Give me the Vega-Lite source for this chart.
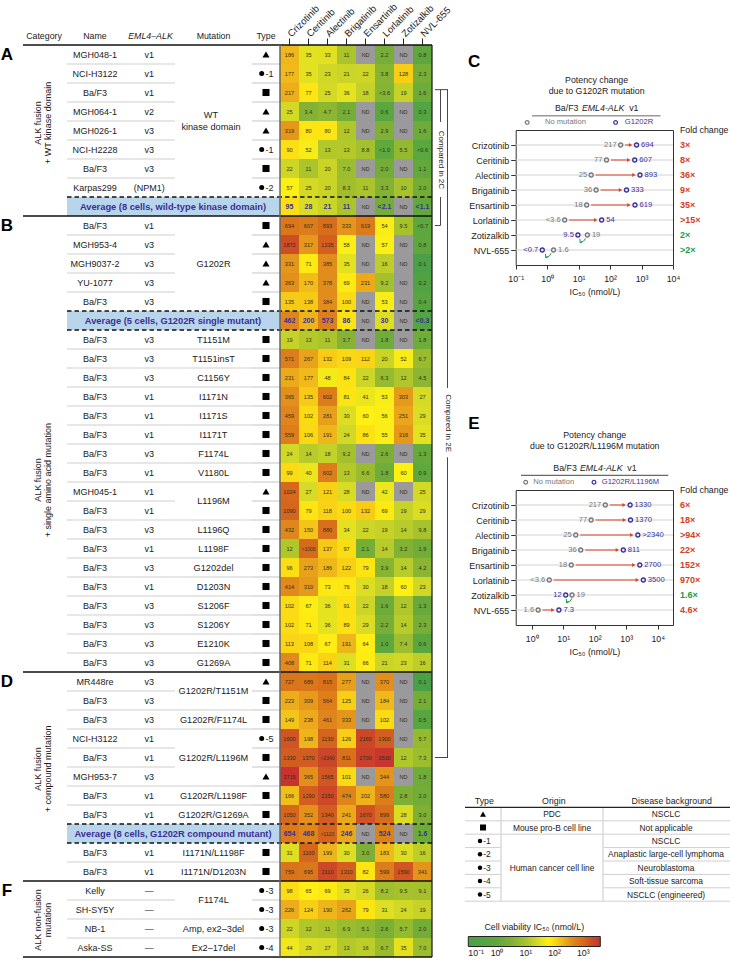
{"$schema":"https://vega.github.io/schema/vega-lite/v6.json","padding":{"left":0,"top":1,"right":0,"bottom":0},"bounds":"flush","spacing":0,"config":{"font":"Liberation Sans","view":{"stroke":null},"text":{"color":"#222"},"title":{"fontWeight":"normal","color":"#222"}},
"datasets":{
"rows":[
{"row":1,"name":"MGH048-1","variant":"v1","mutation":"WT\nkinase domain","group":"a","symbol":"triangle","suffix":""},
{"row":2,"name":"NCI-H3122","variant":"v1","mutation":"WT\nkinase domain","group":"a","symbol":"circle","suffix":"-1"},
{"row":3,"name":"Ba/F3","variant":"v1","mutation":"WT\nkinase domain","group":"a","symbol":"square","suffix":""},
{"row":4,"name":"MGH064-1","variant":"v2","mutation":"WT\nkinase domain","group":"a","symbol":"triangle","suffix":""},
{"row":5,"name":"MGH026-1","variant":"v3","mutation":"WT\nkinase domain","group":"a","symbol":"triangle","suffix":""},
{"row":6,"name":"NCI-H2228","variant":"v3","mutation":"WT\nkinase domain","group":"a","symbol":"circle","suffix":"-1"},
{"row":7,"name":"Ba/F3","variant":"v3","mutation":"WT\nkinase domain","group":"a","symbol":"square","suffix":""},
{"row":8,"name":"Karpas299","variant":"(NPM1)","mutation":"WT\nkinase domain","group":"a","symbol":"circle","suffix":"-2"},
{"row":10,"name":"Ba/F3","variant":"v1","mutation":"G1202R","group":"b","symbol":"square","suffix":""},
{"row":11,"name":"MGH953-4","variant":"v3","mutation":"G1202R","group":"b","symbol":"triangle","suffix":""},
{"row":12,"name":"MGH9037-2","variant":"v3","mutation":"G1202R","group":"b","symbol":"triangle","suffix":""},
{"row":13,"name":"YU-1077","variant":"v3","mutation":"G1202R","group":"b","symbol":"triangle","suffix":""},
{"row":14,"name":"Ba/F3","variant":"v3","mutation":"G1202R","group":"b","symbol":"square","suffix":""},
{"row":16,"name":"Ba/F3","variant":"v3","mutation":"T1151M","group":"c","symbol":"square","suffix":""},
{"row":17,"name":"Ba/F3","variant":"v3","mutation":"T1151insT","group":"c","symbol":"square","suffix":""},
{"row":18,"name":"Ba/F3","variant":"v3","mutation":"C1156Y","group":"c","symbol":"square","suffix":""},
{"row":19,"name":"Ba/F3","variant":"v1","mutation":"I1171N","group":"c","symbol":"square","suffix":""},
{"row":20,"name":"Ba/F3","variant":"v1","mutation":"I1171S","group":"c","symbol":"square","suffix":""},
{"row":21,"name":"Ba/F3","variant":"v1","mutation":"I1171T","group":"c","symbol":"square","suffix":""},
{"row":22,"name":"Ba/F3","variant":"v3","mutation":"F1174L","group":"c","symbol":"square","suffix":""},
{"row":23,"name":"Ba/F3","variant":"v1","mutation":"V1180L","group":"c","symbol":"square","suffix":""},
{"row":24,"name":"MGH045-1","variant":"v1","mutation":"L1196M","group":"c","symbol":"triangle","suffix":""},
{"row":25,"name":"Ba/F3","variant":"v1","mutation":"L1196M","group":"c","symbol":"square","suffix":""},
{"row":26,"name":"Ba/F3","variant":"v3","mutation":"L1196Q","group":"c","symbol":"square","suffix":""},
{"row":27,"name":"Ba/F3","variant":"v1","mutation":"L1198F","group":"c","symbol":"square","suffix":""},
{"row":28,"name":"Ba/F3","variant":"v3","mutation":"G1202del","group":"c","symbol":"square","suffix":""},
{"row":29,"name":"Ba/F3","variant":"v1","mutation":"D1203N","group":"c","symbol":"square","suffix":""},
{"row":30,"name":"Ba/F3","variant":"v3","mutation":"S1206F","group":"c","symbol":"square","suffix":""},
{"row":31,"name":"Ba/F3","variant":"v3","mutation":"S1206Y","group":"c","symbol":"square","suffix":""},
{"row":32,"name":"Ba/F3","variant":"v3","mutation":"E1210K","group":"c","symbol":"square","suffix":""},
{"row":33,"name":"Ba/F3","variant":"v3","mutation":"G1269A","group":"c","symbol":"square","suffix":""},
{"row":34,"name":"MR448re","variant":"v3","mutation":"G1202R/T1151M","group":"d","symbol":"triangle","suffix":""},
{"row":35,"name":"Ba/F3","variant":"v3","mutation":"G1202R/T1151M","group":"d","symbol":"square","suffix":""},
{"row":36,"name":"Ba/F3","variant":"v3","mutation":"G1202R/F1174L","group":"d","symbol":"square","suffix":""},
{"row":37,"name":"NCI-H3122","variant":"v1","mutation":"G1202R/L1196M","group":"d","symbol":"circle","suffix":"-5"},
{"row":38,"name":"Ba/F3","variant":"v1","mutation":"G1202R/L1196M","group":"d","symbol":"square","suffix":""},
{"row":39,"name":"MGH953-7","variant":"v3","mutation":"G1202R/L1196M","group":"d","symbol":"triangle","suffix":""},
{"row":40,"name":"Ba/F3","variant":"v1","mutation":"G1202R/L1198F","group":"d","symbol":"square","suffix":""},
{"row":41,"name":"Ba/F3","variant":"v1","mutation":"G1202R/G1269A","group":"d","symbol":"square","suffix":""},
{"row":43,"name":"Ba/F3","variant":"v1","mutation":"I1171N/L1198F","group":"d","symbol":"square","suffix":""},
{"row":44,"name":"Ba/F3","variant":"v1","mutation":"I1171N/D1203N","group":"d","symbol":"square","suffix":""},
{"row":45,"name":"Kelly","variant":"—","mutation":"F1174L","group":"f","symbol":"circle","suffix":"-3"},
{"row":46,"name":"SH-SY5Y","variant":"—","mutation":"F1174L","group":"f","symbol":"circle","suffix":"-3"},
{"row":47,"name":"NB-1","variant":"—","mutation":"Amp, ex2–3del","group":"f","symbol":"circle","suffix":"-3"},
{"row":48,"name":"Aska-SS","variant":"—","mutation":"Ex2–17del","group":"f","symbol":"circle","suffix":"-4"}
],
"averages":[{"row":9,"label":"Average (8 cells, wild-type kinase domain)"},{"row":15,"label":"Average (5 cells, G1202R single mutant)"},{"row":42,"label":"Average (8 cells, G1202R compound mutant)"}],
"solidLines":[{"row":0},{"row":9},{"row":33},{"row":44},{"row":48}],
"dashedLines":[{"row":8},{"row":14},{"row":15},{"row":41},{"row":42}],
"categories":[{"row":4.6,"label":"ALK fusion\n+ WT kinase domain"},{"row":23.4,"label":"ALK fusion\n+ single amino acid mutation"},{"row":38.6,"label":"ALK fusion\n+ compound mutation"},{"row":46.55,"label":"ALK non-fusion\nmutation"}],
"letters":[{"row":1,"label":"A"},{"row":10,"label":"B"},{"row":34,"label":"D"},{"row":45,"label":"F"}],
"heat":[
{"row":1,"drug":"Crizotinib","value":186,"label":"186"},{"row":1,"drug":"Ceritinib","value":35,"label":"35"},{"row":1,"drug":"Alectinib","value":33,"label":"33"},{"row":1,"drug":"Brigatinib","value":11,"label":"11"},{"row":1,"drug":"Ensartinib","value":null,"label":"ND"},{"row":1,"drug":"Lorlatinib","value":2.2,"label":"2.2"},{"row":1,"drug":"Zotizalkib","value":null,"label":"ND"},{"row":1,"drug":"NVL-655","value":0.8,"label":"0.8"},
{"row":2,"drug":"Crizotinib","value":177,"label":"177"},{"row":2,"drug":"Ceritinib","value":35,"label":"35"},{"row":2,"drug":"Alectinib","value":23,"label":"23"},{"row":2,"drug":"Brigatinib","value":21,"label":"21"},{"row":2,"drug":"Ensartinib","value":22,"label":"22"},{"row":2,"drug":"Lorlatinib","value":3.8,"label":"3.8"},{"row":2,"drug":"Zotizalkib","value":128,"label":"128"},{"row":2,"drug":"NVL-655","value":2.3,"label":"2.3"},
{"row":3,"drug":"Crizotinib","value":217,"label":"217"},{"row":3,"drug":"Ceritinib","value":77,"label":"77"},{"row":3,"drug":"Alectinib","value":25,"label":"25"},{"row":3,"drug":"Brigatinib","value":36,"label":"36"},{"row":3,"drug":"Ensartinib","value":18,"label":"18"},{"row":3,"drug":"Lorlatinib","value":3.6,"label":"<3.6"},{"row":3,"drug":"Zotizalkib","value":19,"label":"19"},{"row":3,"drug":"NVL-655","value":1.6,"label":"1.6"},
{"row":4,"drug":"Crizotinib","value":25,"label":"25"},{"row":4,"drug":"Ceritinib","value":3.4,"label":"3.4"},{"row":4,"drug":"Alectinib","value":4.7,"label":"4.7"},{"row":4,"drug":"Brigatinib","value":2.1,"label":"2.1"},{"row":4,"drug":"Ensartinib","value":null,"label":"ND"},{"row":4,"drug":"Lorlatinib","value":0.6,"label":"0.6"},{"row":4,"drug":"Zotizalkib","value":null,"label":"ND"},{"row":4,"drug":"NVL-655","value":0.3,"label":"0.3"},
{"row":5,"drug":"Crizotinib","value":319,"label":"319"},{"row":5,"drug":"Ceritinib","value":80,"label":"80"},{"row":5,"drug":"Alectinib","value":80,"label":"80"},{"row":5,"drug":"Brigatinib","value":12,"label":"12"},{"row":5,"drug":"Ensartinib","value":null,"label":"ND"},{"row":5,"drug":"Lorlatinib","value":2.9,"label":"2.9"},{"row":5,"drug":"Zotizalkib","value":null,"label":"ND"},{"row":5,"drug":"NVL-655","value":1.6,"label":"1.6"},
{"row":6,"drug":"Crizotinib","value":90,"label":"90"},{"row":6,"drug":"Ceritinib","value":52,"label":"52"},{"row":6,"drug":"Alectinib","value":13,"label":"13"},{"row":6,"drug":"Brigatinib","value":13,"label":"13"},{"row":6,"drug":"Ensartinib","value":8.8,"label":"8.8"},{"row":6,"drug":"Lorlatinib","value":1.0,"label":"<1.0"},{"row":6,"drug":"Zotizalkib","value":5.5,"label":"5.5"},{"row":6,"drug":"NVL-655","value":0.6,"label":"<0.6"},
{"row":7,"drug":"Crizotinib","value":22,"label":"22"},{"row":7,"drug":"Ceritinib","value":11,"label":"11"},{"row":7,"drug":"Alectinib","value":20,"label":"20"},{"row":7,"drug":"Brigatinib","value":7.0,"label":"7.0"},{"row":7,"drug":"Ensartinib","value":null,"label":"ND"},{"row":7,"drug":"Lorlatinib","value":2.0,"label":"2.0"},{"row":7,"drug":"Zotizalkib","value":null,"label":"ND"},{"row":7,"drug":"NVL-655","value":1.1,"label":"1.1"},
{"row":8,"drug":"Crizotinib","value":57,"label":"57"},{"row":8,"drug":"Ceritinib","value":25,"label":"25"},{"row":8,"drug":"Alectinib","value":20,"label":"20"},{"row":8,"drug":"Brigatinib","value":8.3,"label":"8.3"},{"row":8,"drug":"Ensartinib","value":11,"label":"11"},{"row":8,"drug":"Lorlatinib","value":3.3,"label":"3.3"},{"row":8,"drug":"Zotizalkib","value":10,"label":"10"},{"row":8,"drug":"NVL-655","value":2.0,"label":"2.0"},
{"row":9,"drug":"Crizotinib","value":95,"label":"95"},{"row":9,"drug":"Ceritinib","value":28,"label":"28"},{"row":9,"drug":"Alectinib","value":21,"label":"21"},{"row":9,"drug":"Brigatinib","value":11,"label":"11"},{"row":9,"drug":"Ensartinib","value":null,"label":"ND"},{"row":9,"drug":"Lorlatinib","value":2.1,"label":"<2.1"},{"row":9,"drug":"Zotizalkib","value":null,"label":"ND"},{"row":9,"drug":"NVL-655","value":1.1,"label":"<1.1"},
{"row":10,"drug":"Crizotinib","value":694,"label":"694"},{"row":10,"drug":"Ceritinib","value":607,"label":"607"},{"row":10,"drug":"Alectinib","value":893,"label":"893"},{"row":10,"drug":"Brigatinib","value":333,"label":"333"},{"row":10,"drug":"Ensartinib","value":619,"label":"619"},{"row":10,"drug":"Lorlatinib","value":54,"label":"54"},{"row":10,"drug":"Zotizalkib","value":9.5,"label":"9.5"},{"row":10,"drug":"NVL-655","value":0.7,"label":"<0.7"},
{"row":11,"drug":"Crizotinib","value":1872,"label":"1872"},{"row":11,"drug":"Ceritinib","value":317,"label":"317"},{"row":11,"drug":"Alectinib","value":1235,"label":"1235"},{"row":11,"drug":"Brigatinib","value":58,"label":"58"},{"row":11,"drug":"Ensartinib","value":null,"label":"ND"},{"row":11,"drug":"Lorlatinib","value":57,"label":"57"},{"row":11,"drug":"Zotizalkib","value":null,"label":"ND"},{"row":11,"drug":"NVL-655","value":0.8,"label":"0.8"},
{"row":12,"drug":"Crizotinib","value":331,"label":"331"},{"row":12,"drug":"Ceritinib","value":71,"label":"71"},{"row":12,"drug":"Alectinib","value":385,"label":"385"},{"row":12,"drug":"Brigatinib","value":35,"label":"35"},{"row":12,"drug":"Ensartinib","value":null,"label":"ND"},{"row":12,"drug":"Lorlatinib","value":16,"label":"16"},{"row":12,"drug":"Zotizalkib","value":null,"label":"ND"},{"row":12,"drug":"NVL-655","value":0.1,"label":"0.1"},
{"row":13,"drug":"Crizotinib","value":363,"label":"363"},{"row":13,"drug":"Ceritinib","value":170,"label":"170"},{"row":13,"drug":"Alectinib","value":378,"label":"378"},{"row":13,"drug":"Brigatinib","value":69,"label":"69"},{"row":13,"drug":"Ensartinib","value":231,"label":"231"},{"row":13,"drug":"Lorlatinib","value":9.2,"label":"9.2"},{"row":13,"drug":"Zotizalkib","value":null,"label":"ND"},{"row":13,"drug":"NVL-655","value":0.2,"label":"0.2"},
{"row":14,"drug":"Crizotinib","value":135,"label":"135"},{"row":14,"drug":"Ceritinib","value":138,"label":"138"},{"row":14,"drug":"Alectinib","value":384,"label":"384"},{"row":14,"drug":"Brigatinib","value":100,"label":"100"},{"row":14,"drug":"Ensartinib","value":null,"label":"ND"},{"row":14,"drug":"Lorlatinib","value":53,"label":"53"},{"row":14,"drug":"Zotizalkib","value":null,"label":"ND"},{"row":14,"drug":"NVL-655","value":0.4,"label":"0.4"},
{"row":15,"drug":"Crizotinib","value":462,"label":"462"},{"row":15,"drug":"Ceritinib","value":200,"label":"200"},{"row":15,"drug":"Alectinib","value":573,"label":"573"},{"row":15,"drug":"Brigatinib","value":86,"label":"86"},{"row":15,"drug":"Ensartinib","value":null,"label":"ND"},{"row":15,"drug":"Lorlatinib","value":30,"label":"30"},{"row":15,"drug":"Zotizalkib","value":null,"label":"ND"},{"row":15,"drug":"NVL-655","value":0.3,"label":"<0.3"},
{"row":16,"drug":"Crizotinib","value":19,"label":"19"},{"row":16,"drug":"Ceritinib","value":13,"label":"13"},{"row":16,"drug":"Alectinib","value":11,"label":"11"},{"row":16,"drug":"Brigatinib","value":3.7,"label":"3.7"},{"row":16,"drug":"Ensartinib","value":null,"label":"ND"},{"row":16,"drug":"Lorlatinib","value":1.8,"label":"1.8"},{"row":16,"drug":"Zotizalkib","value":null,"label":"ND"},{"row":16,"drug":"NVL-655","value":1.8,"label":"1.8"},
{"row":17,"drug":"Crizotinib","value":571,"label":"571"},{"row":17,"drug":"Ceritinib","value":267,"label":"267"},{"row":17,"drug":"Alectinib","value":132,"label":"132"},{"row":17,"drug":"Brigatinib","value":109,"label":"109"},{"row":17,"drug":"Ensartinib","value":112,"label":"112"},{"row":17,"drug":"Lorlatinib","value":20,"label":"20"},{"row":17,"drug":"Zotizalkib","value":52,"label":"52"},{"row":17,"drug":"NVL-655","value":6.7,"label":"6.7"},
{"row":18,"drug":"Crizotinib","value":231,"label":"231"},{"row":18,"drug":"Ceritinib","value":177,"label":"177"},{"row":18,"drug":"Alectinib","value":48,"label":"48"},{"row":18,"drug":"Brigatinib","value":84,"label":"84"},{"row":18,"drug":"Ensartinib","value":22,"label":"22"},{"row":18,"drug":"Lorlatinib","value":6.3,"label":"6.3"},{"row":18,"drug":"Zotizalkib","value":12,"label":"12"},{"row":18,"drug":"NVL-655","value":4.5,"label":"4.5"},
{"row":19,"drug":"Crizotinib","value":365,"label":"365"},{"row":19,"drug":"Ceritinib","value":135,"label":"135"},{"row":19,"drug":"Alectinib","value":602,"label":"602"},{"row":19,"drug":"Brigatinib","value":81,"label":"81"},{"row":19,"drug":"Ensartinib","value":41,"label":"41"},{"row":19,"drug":"Lorlatinib","value":53,"label":"53"},{"row":19,"drug":"Zotizalkib","value":303,"label":"303"},{"row":19,"drug":"NVL-655","value":27,"label":"27"},
{"row":20,"drug":"Crizotinib","value":459,"label":"459"},{"row":20,"drug":"Ceritinib","value":102,"label":"102"},{"row":20,"drug":"Alectinib","value":281,"label":"281"},{"row":20,"drug":"Brigatinib","value":30,"label":"30"},{"row":20,"drug":"Ensartinib","value":60,"label":"60"},{"row":20,"drug":"Lorlatinib","value":56,"label":"56"},{"row":20,"drug":"Zotizalkib","value":251,"label":"251"},{"row":20,"drug":"NVL-655","value":29,"label":"29"},
{"row":21,"drug":"Crizotinib","value":559,"label":"559"},{"row":21,"drug":"Ceritinib","value":106,"label":"106"},{"row":21,"drug":"Alectinib","value":191,"label":"191"},{"row":21,"drug":"Brigatinib","value":24,"label":"24"},{"row":21,"drug":"Ensartinib","value":86,"label":"86"},{"row":21,"drug":"Lorlatinib","value":55,"label":"55"},{"row":21,"drug":"Zotizalkib","value":316,"label":"316"},{"row":21,"drug":"NVL-655","value":35,"label":"35"},
{"row":22,"drug":"Crizotinib","value":24,"label":"24"},{"row":22,"drug":"Ceritinib","value":14,"label":"14"},{"row":22,"drug":"Alectinib","value":18,"label":"18"},{"row":22,"drug":"Brigatinib","value":9.2,"label":"9.2"},{"row":22,"drug":"Ensartinib","value":null,"label":"ND"},{"row":22,"drug":"Lorlatinib","value":2.6,"label":"2.6"},{"row":22,"drug":"Zotizalkib","value":null,"label":"ND"},{"row":22,"drug":"NVL-655","value":1.3,"label":"1.3"},
{"row":23,"drug":"Crizotinib","value":99,"label":"99"},{"row":23,"drug":"Ceritinib","value":40,"label":"40"},{"row":23,"drug":"Alectinib","value":602,"label":"602"},{"row":23,"drug":"Brigatinib","value":13,"label":"13"},{"row":23,"drug":"Ensartinib","value":6.6,"label":"6.6"},{"row":23,"drug":"Lorlatinib","value":1.8,"label":"1.8"},{"row":23,"drug":"Zotizalkib","value":60,"label":"60"},{"row":23,"drug":"NVL-655","value":0.9,"label":"0.9"},
{"row":24,"drug":"Crizotinib","value":1024,"label":"1024"},{"row":24,"drug":"Ceritinib","value":27,"label":"27"},{"row":24,"drug":"Alectinib","value":121,"label":"121"},{"row":24,"drug":"Brigatinib","value":28,"label":"28"},{"row":24,"drug":"Ensartinib","value":null,"label":"ND"},{"row":24,"drug":"Lorlatinib","value":42,"label":"42"},{"row":24,"drug":"Zotizalkib","value":null,"label":"ND"},{"row":24,"drug":"NVL-655","value":25,"label":"25"},
{"row":25,"drug":"Crizotinib","value":1090,"label":"1090"},{"row":25,"drug":"Ceritinib","value":79,"label":"79"},{"row":25,"drug":"Alectinib","value":118,"label":"118"},{"row":25,"drug":"Brigatinib","value":100,"label":"100"},{"row":25,"drug":"Ensartinib","value":132,"label":"132"},{"row":25,"drug":"Lorlatinib","value":69,"label":"69"},{"row":25,"drug":"Zotizalkib","value":19,"label":"19"},{"row":25,"drug":"NVL-655","value":29,"label":"29"},
{"row":26,"drug":"Crizotinib","value":432,"label":"432"},{"row":26,"drug":"Ceritinib","value":150,"label":"150"},{"row":26,"drug":"Alectinib","value":880,"label":"880"},{"row":26,"drug":"Brigatinib","value":34,"label":"34"},{"row":26,"drug":"Ensartinib","value":22,"label":"22"},{"row":26,"drug":"Lorlatinib","value":19,"label":"19"},{"row":26,"drug":"Zotizalkib","value":14,"label":"14"},{"row":26,"drug":"NVL-655","value":9.8,"label":"9.8"},
{"row":27,"drug":"Crizotinib","value":12,"label":"12"},{"row":27,"drug":"Ceritinib","value":1000,"label":">1000"},{"row":27,"drug":"Alectinib","value":137,"label":"137"},{"row":27,"drug":"Brigatinib","value":97,"label":"97"},{"row":27,"drug":"Ensartinib","value":2.1,"label":"2.1"},{"row":27,"drug":"Lorlatinib","value":14,"label":"14"},{"row":27,"drug":"Zotizalkib","value":3.2,"label":"3.2"},{"row":27,"drug":"NVL-655","value":1.9,"label":"1.9"},
{"row":28,"drug":"Crizotinib","value":96,"label":"96"},{"row":28,"drug":"Ceritinib","value":273,"label":"273"},{"row":28,"drug":"Alectinib","value":186,"label":"186"},{"row":28,"drug":"Brigatinib","value":122,"label":"122"},{"row":28,"drug":"Ensartinib","value":79,"label":"79"},{"row":28,"drug":"Lorlatinib","value":3.9,"label":"3.9"},{"row":28,"drug":"Zotizalkib","value":14,"label":"14"},{"row":28,"drug":"NVL-655","value":4.2,"label":"4.2"},
{"row":29,"drug":"Crizotinib","value":414,"label":"414"},{"row":29,"drug":"Ceritinib","value":310,"label":"310"},{"row":29,"drug":"Alectinib","value":73,"label":"73"},{"row":29,"drug":"Brigatinib","value":76,"label":"76"},{"row":29,"drug":"Ensartinib","value":30,"label":"30"},{"row":29,"drug":"Lorlatinib","value":18,"label":"18"},{"row":29,"drug":"Zotizalkib","value":60,"label":"60"},{"row":29,"drug":"NVL-655","value":23,"label":"23"},
{"row":30,"drug":"Crizotinib","value":102,"label":"102"},{"row":30,"drug":"Ceritinib","value":67,"label":"67"},{"row":30,"drug":"Alectinib","value":36,"label":"36"},{"row":30,"drug":"Brigatinib","value":91,"label":"91"},{"row":30,"drug":"Ensartinib","value":22,"label":"22"},{"row":30,"drug":"Lorlatinib","value":1.6,"label":"1.6"},{"row":30,"drug":"Zotizalkib","value":12,"label":"12"},{"row":30,"drug":"NVL-655","value":1.3,"label":"1.3"},
{"row":31,"drug":"Crizotinib","value":102,"label":"102"},{"row":31,"drug":"Ceritinib","value":71,"label":"71"},{"row":31,"drug":"Alectinib","value":36,"label":"36"},{"row":31,"drug":"Brigatinib","value":89,"label":"89"},{"row":31,"drug":"Ensartinib","value":29,"label":"29"},{"row":31,"drug":"Lorlatinib","value":2.2,"label":"2.2"},{"row":31,"drug":"Zotizalkib","value":14,"label":"14"},{"row":31,"drug":"NVL-655","value":2.3,"label":"2.3"},
{"row":32,"drug":"Crizotinib","value":113,"label":"113"},{"row":32,"drug":"Ceritinib","value":108,"label":"108"},{"row":32,"drug":"Alectinib","value":67,"label":"67"},{"row":32,"drug":"Brigatinib","value":191,"label":"191"},{"row":32,"drug":"Ensartinib","value":64,"label":"64"},{"row":32,"drug":"Lorlatinib","value":1.0,"label":"1.0"},{"row":32,"drug":"Zotizalkib","value":7.4,"label":"7.4"},{"row":32,"drug":"NVL-655","value":0.6,"label":"0.6"},
{"row":33,"drug":"Crizotinib","value":408,"label":"408"},{"row":33,"drug":"Ceritinib","value":71,"label":"71"},{"row":33,"drug":"Alectinib","value":114,"label":"114"},{"row":33,"drug":"Brigatinib","value":31,"label":"31"},{"row":33,"drug":"Ensartinib","value":66,"label":"66"},{"row":33,"drug":"Lorlatinib","value":21,"label":"21"},{"row":33,"drug":"Zotizalkib","value":23,"label":"23"},{"row":33,"drug":"NVL-655","value":16,"label":"16"},
{"row":34,"drug":"Crizotinib","value":727,"label":"727"},{"row":34,"drug":"Ceritinib","value":689,"label":"689"},{"row":34,"drug":"Alectinib","value":815,"label":"815"},{"row":34,"drug":"Brigatinib","value":277,"label":"277"},{"row":34,"drug":"Ensartinib","value":null,"label":"ND"},{"row":34,"drug":"Lorlatinib","value":370,"label":"370"},{"row":34,"drug":"Zotizalkib","value":null,"label":"ND"},{"row":34,"drug":"NVL-655","value":0.1,"label":"0.1"},
{"row":35,"drug":"Crizotinib","value":223,"label":"223"},{"row":35,"drug":"Ceritinib","value":309,"label":"309"},{"row":35,"drug":"Alectinib","value":564,"label":"564"},{"row":35,"drug":"Brigatinib","value":125,"label":"125"},{"row":35,"drug":"Ensartinib","value":null,"label":"ND"},{"row":35,"drug":"Lorlatinib","value":184,"label":"184"},{"row":35,"drug":"Zotizalkib","value":null,"label":"ND"},{"row":35,"drug":"NVL-655","value":2.1,"label":"2.1"},
{"row":36,"drug":"Crizotinib","value":149,"label":"149"},{"row":36,"drug":"Ceritinib","value":238,"label":"238"},{"row":36,"drug":"Alectinib","value":461,"label":"461"},{"row":36,"drug":"Brigatinib","value":333,"label":"333"},{"row":36,"drug":"Ensartinib","value":null,"label":"ND"},{"row":36,"drug":"Lorlatinib","value":102,"label":"102"},{"row":36,"drug":"Zotizalkib","value":null,"label":"ND"},{"row":36,"drug":"NVL-655","value":0.5,"label":"0.5"},
{"row":37,"drug":"Crizotinib","value":1600,"label":"1600"},{"row":37,"drug":"Ceritinib","value":198,"label":"198"},{"row":37,"drug":"Alectinib","value":1130,"label":"1130"},{"row":37,"drug":"Brigatinib","value":126,"label":"126"},{"row":37,"drug":"Ensartinib","value":2160,"label":"2160"},{"row":37,"drug":"Lorlatinib","value":1300,"label":"1300"},{"row":37,"drug":"Zotizalkib","value":null,"label":"ND"},{"row":37,"drug":"NVL-655","value":5.7,"label":"5.7"},
{"row":38,"drug":"Crizotinib","value":1330,"label":"1330"},{"row":38,"drug":"Ceritinib","value":1370,"label":"1370"},{"row":38,"drug":"Alectinib","value":2340,"label":">2340"},{"row":38,"drug":"Brigatinib","value":811,"label":"811"},{"row":38,"drug":"Ensartinib","value":2700,"label":"2700"},{"row":38,"drug":"Lorlatinib","value":3530,"label":"3530"},{"row":38,"drug":"Zotizalkib","value":12,"label":"12"},{"row":38,"drug":"NVL-655","value":7.3,"label":"7.3"},
{"row":39,"drug":"Crizotinib","value":3715,"label":"3715"},{"row":39,"drug":"Ceritinib","value":365,"label":"365"},{"row":39,"drug":"Alectinib","value":1565,"label":"1565"},{"row":39,"drug":"Brigatinib","value":101,"label":"101"},{"row":39,"drug":"Ensartinib","value":null,"label":"ND"},{"row":39,"drug":"Lorlatinib","value":344,"label":"344"},{"row":39,"drug":"Zotizalkib","value":null,"label":"ND"},{"row":39,"drug":"NVL-655","value":1.8,"label":"1.8"},
{"row":40,"drug":"Crizotinib","value":166,"label":"166"},{"row":40,"drug":"Ceritinib","value":1290,"label":"1290"},{"row":40,"drug":"Alectinib","value":2150,"label":"2150"},{"row":40,"drug":"Brigatinib","value":474,"label":"474"},{"row":40,"drug":"Ensartinib","value":202,"label":"202"},{"row":40,"drug":"Lorlatinib","value":580,"label":"580"},{"row":40,"drug":"Zotizalkib","value":2.8,"label":"2.8"},{"row":40,"drug":"NVL-655","value":2.0,"label":"2.0"},
{"row":41,"drug":"Crizotinib","value":1050,"label":"1050"},{"row":41,"drug":"Ceritinib","value":352,"label":"352"},{"row":41,"drug":"Alectinib","value":1340,"label":"1340"},{"row":41,"drug":"Brigatinib","value":241,"label":"241"},{"row":41,"drug":"Ensartinib","value":1670,"label":"1670"},{"row":41,"drug":"Lorlatinib","value":899,"label":"899"},{"row":41,"drug":"Zotizalkib","value":28,"label":"28"},{"row":41,"drug":"NVL-655","value":3.0,"label":"3.0"},
{"row":42,"drug":"Crizotinib","value":654,"label":"654"},{"row":42,"drug":"Ceritinib","value":468,"label":"468"},{"row":42,"drug":"Alectinib","value":1123,"label":">1123"},{"row":42,"drug":"Brigatinib","value":246,"label":"246"},{"row":42,"drug":"Ensartinib","value":null,"label":"ND"},{"row":42,"drug":"Lorlatinib","value":524,"label":"524"},{"row":42,"drug":"Zotizalkib","value":null,"label":"ND"},{"row":42,"drug":"NVL-655","value":1.6,"label":"1.6"},
{"row":43,"drug":"Crizotinib","value":31,"label":"31"},{"row":43,"drug":"Ceritinib","value":1100,"label":"1100"},{"row":43,"drug":"Alectinib","value":199,"label":"199"},{"row":43,"drug":"Brigatinib","value":30,"label":"30"},{"row":43,"drug":"Ensartinib","value":3.0,"label":"3.0"},{"row":43,"drug":"Lorlatinib","value":183,"label":"183"},{"row":43,"drug":"Zotizalkib","value":30,"label":"30"},{"row":43,"drug":"NVL-655","value":16,"label":"16"},
{"row":44,"drug":"Crizotinib","value":759,"label":"759"},{"row":44,"drug":"Ceritinib","value":695,"label":"695"},{"row":44,"drug":"Alectinib","value":2110,"label":"2110"},{"row":44,"drug":"Brigatinib","value":1310,"label":"1310"},{"row":44,"drug":"Ensartinib","value":82,"label":"82"},{"row":44,"drug":"Lorlatinib","value":599,"label":"599"},{"row":44,"drug":"Zotizalkib","value":1590,"label":"1590"},{"row":44,"drug":"NVL-655","value":341,"label":"341"},
{"row":45,"drug":"Crizotinib","value":98,"label":"98"},{"row":45,"drug":"Ceritinib","value":65,"label":"65"},{"row":45,"drug":"Alectinib","value":69,"label":"69"},{"row":45,"drug":"Brigatinib","value":35,"label":"35"},{"row":45,"drug":"Ensartinib","value":26,"label":"26"},{"row":45,"drug":"Lorlatinib","value":8.2,"label":"8.2"},{"row":45,"drug":"Zotizalkib","value":9.5,"label":"9.5"},{"row":45,"drug":"NVL-655","value":9.1,"label":"9.1"},
{"row":46,"drug":"Crizotinib","value":226,"label":"226"},{"row":46,"drug":"Ceritinib","value":124,"label":"124"},{"row":46,"drug":"Alectinib","value":190,"label":"190"},{"row":46,"drug":"Brigatinib","value":262,"label":"262"},{"row":46,"drug":"Ensartinib","value":79,"label":"79"},{"row":46,"drug":"Lorlatinib","value":31,"label":"31"},{"row":46,"drug":"Zotizalkib","value":24,"label":"24"},{"row":46,"drug":"NVL-655","value":19,"label":"19"},
{"row":47,"drug":"Crizotinib","value":22,"label":"22"},{"row":47,"drug":"Ceritinib","value":12,"label":"12"},{"row":47,"drug":"Alectinib","value":11,"label":"11"},{"row":47,"drug":"Brigatinib","value":6.9,"label":"6.9"},{"row":47,"drug":"Ensartinib","value":5.1,"label":"5.1"},{"row":47,"drug":"Lorlatinib","value":2.6,"label":"2.6"},{"row":47,"drug":"Zotizalkib","value":5.7,"label":"5.7"},{"row":47,"drug":"NVL-655","value":2.0,"label":"2.0"},
{"row":48,"drug":"Crizotinib","value":44,"label":"44"},{"row":48,"drug":"Ceritinib","value":29,"label":"29"},{"row":48,"drug":"Alectinib","value":27,"label":"27"},{"row":48,"drug":"Brigatinib","value":13,"label":"13"},{"row":48,"drug":"Ensartinib","value":16,"label":"16"},{"row":48,"drug":"Lorlatinib","value":6.7,"label":"6.7"},{"row":48,"drug":"Zotizalkib","value":35,"label":"35"},{"row":48,"drug":"NVL-655","value":7.0,"label":"7.0"}
],
"potencyC":[
{"drug":"Crizotinib","series":"No mutation","value":217,"label":"217","side":"left"},{"drug":"Crizotinib","series":"Mutant","value":694,"label":"694","side":"right"},
{"drug":"Ceritinib","series":"No mutation","value":77,"label":"77","side":"left"},{"drug":"Ceritinib","series":"Mutant","value":607,"label":"607","side":"right"},
{"drug":"Alectinib","series":"No mutation","value":25,"label":"25","side":"left"},{"drug":"Alectinib","series":"Mutant","value":893,"label":"893","side":"right"},
{"drug":"Brigatinib","series":"No mutation","value":36,"label":"36","side":"left"},{"drug":"Brigatinib","series":"Mutant","value":333,"label":"333","side":"right"},
{"drug":"Ensartinib","series":"No mutation","value":18,"label":"18","side":"left"},{"drug":"Ensartinib","series":"Mutant","value":619,"label":"619","side":"right"},
{"drug":"Lorlatinib","series":"No mutation","value":3.6,"label":"<3.6","side":"left"},{"drug":"Lorlatinib","series":"Mutant","value":54,"label":"54","side":"right"},
{"drug":"Zotizalkib","series":"No mutation","value":19,"label":"19","side":"right"},{"drug":"Zotizalkib","series":"Mutant","value":9.5,"label":"9.5","side":"left"},
{"drug":"NVL-655","series":"No mutation","value":1.6,"label":"1.6","side":"right"},{"drug":"NVL-655","series":"Mutant","value":0.7,"label":"<0.7","side":"left"}],
"potencyE":[
{"drug":"Crizotinib","series":"No mutation","value":217,"label":"217","side":"left"},{"drug":"Crizotinib","series":"Mutant","value":1330,"label":"1330","side":"right"},
{"drug":"Ceritinib","series":"No mutation","value":77,"label":"77","side":"left"},{"drug":"Ceritinib","series":"Mutant","value":1370,"label":"1370","side":"right"},
{"drug":"Alectinib","series":"No mutation","value":25,"label":"25","side":"left"},{"drug":"Alectinib","series":"Mutant","value":2340,"label":">2340","side":"right"},
{"drug":"Brigatinib","series":"No mutation","value":36,"label":"36","side":"left"},{"drug":"Brigatinib","series":"Mutant","value":811,"label":"811","side":"right"},
{"drug":"Ensartinib","series":"No mutation","value":18,"label":"18","side":"left"},{"drug":"Ensartinib","series":"Mutant","value":2700,"label":"2700","side":"right"},
{"drug":"Lorlatinib","series":"No mutation","value":3.6,"label":"<3.6","side":"left"},{"drug":"Lorlatinib","series":"Mutant","value":3500,"label":"3500","side":"right"},
{"drug":"Zotizalkib","series":"No mutation","value":19,"label":"19","side":"right"},{"drug":"Zotizalkib","series":"Mutant","value":12,"label":"12","side":"left"},
{"drug":"NVL-655","series":"No mutation","value":1.6,"label":"1.6","side":"left"},{"drug":"NVL-655","series":"Mutant","value":7.3,"label":"7.3","side":"right"}],
"foldC":[
{"drug":"Crizotinib","from":217,"to":694,"fold":"3×","direction":"up"},{"drug":"Ceritinib","from":77,"to":607,"fold":"8×","direction":"up"},{"drug":"Alectinib","from":25,"to":893,"fold":"36×","direction":"up"},{"drug":"Brigatinib","from":36,"to":333,"fold":"9×","direction":"up"},{"drug":"Ensartinib","from":18,"to":619,"fold":"35×","direction":"up"},{"drug":"Lorlatinib","from":3.6,"to":54,"fold":">15×","direction":"up"},{"drug":"Zotizalkib","from":19,"to":9.5,"middle":13.4,"fold":"2×","direction":"down"},{"drug":"NVL-655","from":1.6,"to":0.7,"middle":1.08,"fold":">2×","direction":"down"}],
"foldE":[
{"drug":"Crizotinib","from":217,"to":1330,"fold":"6×","direction":"up"},{"drug":"Ceritinib","from":77,"to":1370,"fold":"18×","direction":"up"},{"drug":"Alectinib","from":25,"to":2340,"fold":">94×","direction":"up"},{"drug":"Brigatinib","from":36,"to":811,"fold":"22×","direction":"up"},{"drug":"Ensartinib","from":18,"to":2700,"fold":"152×","direction":"up"},{"drug":"Lorlatinib","from":3.6,"to":3500,"fold":"970×","direction":"up"},{"drug":"Zotizalkib","from":19,"to":12,"middle":15.3,"fold":"1.6×","direction":"down"},{"drug":"NVL-655","from":1.6,"to":7.3,"fold":"4.6×","direction":"up"}],
"originTable":[
{"row":1,"symbol":"triangle","suffix":"","origin":"PDC","disease":"NSCLC"},
{"row":2,"symbol":"square","suffix":"","origin":"Mouse pro-B cell line","disease":"Not applicable"},
{"row":3,"symbol":"circle","suffix":"-1","origin":"Human cancer cell line","disease":"NSCLC"},
{"row":4,"symbol":"circle","suffix":"-2","origin":"Human cancer cell line","disease":"Anaplastic large-cell lymphoma"},
{"row":5,"symbol":"circle","suffix":"-3","origin":"Human cancer cell line","disease":"Neuroblastoma"},
{"row":6,"symbol":"circle","suffix":"-4","origin":"Human cancer cell line","disease":"Soft-tissue sarcoma"},
{"row":7,"symbol":"circle","suffix":"-5","origin":"Human cancer cell line","disease":"NSCLC (engineered)"}]
},
"hconcat":[
{"width":280,"height":912,
"encoding":{"y":{"field":"row","type":"quantitative","scale":{"domain":[0.5,48.5],"reverse":true,"nice":false,"zero":false},"axis":null}},
"layer":[
{"data":{"name":"averages"},"mark":{"type":"rule","color":"#B9D5EC","strokeWidth":19},"encoding":{"x":{"datum":67,"type":"quantitative","scale":{"domain":[0,280],"nice":false},"axis":null},"x2":{"datum":280}}},
{"data":{"name":"rows"},"transform":[{"filter":"datum.row!=8&&datum.row!=14&&datum.row!=33&&datum.row!=41&&datum.row!=44&&datum.row!=48"}],"mark":{"type":"rule","color":"#cfcfcf","strokeWidth":1.2,"yOffset":9.5},"encoding":{"x":{"datum":67,"type":"quantitative"},"x2":{"datum":175}}},
{"data":{"name":"rows"},"transform":[{"filter":"datum.row!=8&&datum.row!=14&&datum.row!=33&&datum.row!=41&&datum.row!=44&&datum.row!=48"}],"mark":{"type":"rule","color":"#cfcfcf","strokeWidth":1.2,"yOffset":9.5},"encoding":{"x":{"datum":252,"type":"quantitative"},"x2":{"datum":280}}},
{"data":{"name":"rows"},"transform":[{"aggregate":[{"op":"max","field":"row","as":"last"}],"groupby":["mutation","group"]},{"filter":"datum.last!=8&&datum.last!=14&&datum.last!=33&&datum.last!=41&&datum.last!=44&&datum.last!=48"}],"mark":{"type":"rule","color":"#cfcfcf","strokeWidth":1.2,"yOffset":9.5},"encoding":{"x":{"datum":175,"type":"quantitative"},"x2":{"datum":252},"y":{"field":"last","type":"quantitative"}}},
{"data":{"name":"solidLines"},"mark":{"type":"rule","color":"#111","strokeWidth":1.3,"yOffset":9.5},"encoding":{"x":{"datum":23,"type":"quantitative"},"x2":{"datum":280}}},
{"data":{"name":"dashedLines"},"mark":{"type":"rule","color":"#111","strokeWidth":1.5,"strokeDash":[4.5,3],"yOffset":9.5},"encoding":{"x":{"datum":67,"type":"quantitative"},"x2":{"datum":280}}},
{"data":{"name":"letters"},"mark":{"type":"text","fontSize":17,"fontWeight":"bold","color":"#000"},"encoding":{"x":{"datum":7,"type":"quantitative"},"text":{"field":"label"}}},
{"data":{"name":"categories"},"mark":{"type":"text","fontSize":9,"angle":270,"lineBreak":"\n","lineHeight":10.8,"align":"center","baseline":"middle"},"encoding":{"x":{"datum":37.5,"type":"quantitative"},"text":{"field":"label"}}},
{"data":{"values":[{"row":0,"label":"Category"}]},"mark":{"type":"text","fontSize":8.8},"encoding":{"x":{"datum":44,"type":"quantitative"},"text":{"field":"label"}}},
{"data":{"values":[{"row":0,"label":"Name"}]},"mark":{"type":"text","fontSize":8.8},"encoding":{"x":{"datum":95,"type":"quantitative"},"text":{"field":"label"}}},
{"data":{"values":[{"row":0,"label":"EML4–ALK"}]},"mark":{"type":"text","fontSize":8.8,"fontStyle":"italic"},"encoding":{"x":{"datum":150.5,"type":"quantitative"},"text":{"field":"label"}}},
{"data":{"values":[{"row":0,"label":"Mutation"}]},"mark":{"type":"text","fontSize":8.8},"encoding":{"x":{"datum":213.5,"type":"quantitative"},"text":{"field":"label"}}},
{"data":{"values":[{"row":0,"label":"Type"}]},"mark":{"type":"text","fontSize":8.8},"encoding":{"x":{"datum":266,"type":"quantitative"},"text":{"field":"label"}}},
{"data":{"name":"rows"},"mark":{"type":"text","fontSize":9},"encoding":{"x":{"datum":95,"type":"quantitative"},"text":{"field":"name"}}},
{"data":{"name":"rows"},"mark":{"type":"text","fontSize":9},"encoding":{"x":{"datum":149.3,"type":"quantitative"},"text":{"field":"variant"}}},
{"data":{"name":"rows"},"transform":[{"filter":"datum.group!='a'"},{"aggregate":[{"op":"mean","field":"row","as":"middle"}],"groupby":["mutation","group"]}],"mark":{"type":"text","fontSize":9.2},"encoding":{"x":{"datum":213.5,"type":"quantitative"},"y":{"field":"middle","type":"quantitative"},"text":{"field":"mutation"}}},
{"data":{"name":"rows"},"transform":[{"filter":"datum.group=='a'"},{"aggregate":[{"op":"mean","field":"row","as":"middle"}],"groupby":["mutation","group"]}],"mark":{"type":"text","fontSize":9.2,"lineBreak":"\n","lineHeight":11.5,"yOffset":-5.7},"encoding":{"x":{"datum":211,"type":"quantitative"},"y":{"field":"middle","type":"quantitative"},"text":{"field":"mutation"}}},
{"data":{"name":"rows"},"transform":[{"filter":"datum.symbol!='circle'"}],"mark":{"type":"point","filled":true,"opacity":1,"size":50,"color":"#000"},"encoding":{"x":{"datum":266,"type":"quantitative"},"shape":{"field":"symbol","type":"nominal","scale":{"domain":["triangle","square"],"range":["triangle-up","square"]},"legend":null}}},
{"data":{"name":"rows"},"transform":[{"filter":"datum.symbol=='circle'"}],"mark":{"type":"circle","opacity":1,"size":25,"color":"#000"},"encoding":{"x":{"datum":261.7,"type":"quantitative"}}},
{"data":{"name":"rows"},"mark":{"type":"text","fontSize":9,"align":"left"},"encoding":{"x":{"datum":265.5,"type":"quantitative"},"text":{"field":"suffix"}}},
{"data":{"name":"averages"},"mark":{"type":"text","fontSize":9.3,"fontWeight":"bold","color":"#3A2F96"},"encoding":{"x":{"datum":173,"type":"quantitative"},"text":{"field":"label"}}}
]},
{"width":152,"height":912,
"encoding":{"y":{"field":"row","type":"quantitative","scale":{"domain":[0.5,48.5],"reverse":true,"nice":false,"zero":false},"axis":null}},
"layer":[
{"data":{"name":"heat"},"mark":{"type":"rect","height":19,"invalid":"show"},"encoding":{
"x":{"field":"drug","type":"nominal","sort":null,"scale":{"domain":["Crizotinib","Ceritinib","Alectinib","Brigatinib","Ensartinib","Lorlatinib","Zotizalkib","NVL-655"],"paddingInner":0,"paddingOuter":0},"axis":{"orient":"top","title":null,"labelAngle":-45,"labelAlign":"left","labelBaseline":"middle","labelFontSize":9.6,"tickSize":7,"tickColor":"#222","domain":false,"labelPadding":3,"labelColor":"#222"}},
"color":{"condition":{"test":"datum.label==='ND'","value":"#9A9A9C"},"field":"value","type":"quantitative","scale":{"type":"log","domain":[0.1,1,3,10,25,60,100,200,400,1000,2000,3900],"range":["#49A046","#5FA83D","#7FB035","#A7C22C","#D4D926","#FFF014","#FBDC14","#EEB31C","#E08A1C","#D66A1C","#CC4A26","#C8322E"]},"legend":{"orient":"none","legendX":188.3,"legendY":877.7,"direction":"horizontal","gradientLength":132,"gradientThickness":10,"title":"Cell viability IC₅₀ (nmol/L)","titleFontSize":8.8,"titleFontWeight":"normal","titleColor":"#222","titleAnchor":"middle","values":[0.1,1,10,100,1000],"labelExpr":"datum.value<0.5?'10⁻¹':datum.value<5?'10⁰':datum.value<50?'10¹':datum.value<500?'10²':'10³'","labelFontSize":8.8,"labelColor":"#222","gradientStrokeColor":"#222","gradientStrokeWidth":1}}}},
{"data":{"name":"heat"},"transform":[{"filter":"!((datum.row==9||datum.row==15||datum.row==42)&&datum.label!='ND')&&datum.label.length<=4"}],"mark":{"type":"text","fontSize":5.6,"color":"#33301a"},"encoding":{"x":{"field":"drug","type":"nominal","sort":null},"text":{"field":"label"}}},
{"data":{"name":"heat"},"transform":[{"filter":"datum.label.length>4"}],"mark":{"type":"text","fontSize":5,"color":"#33301a"},"encoding":{"x":{"field":"drug","type":"nominal","sort":null},"text":{"field":"label"}}},
{"data":{"name":"heat"},"transform":[{"filter":"(datum.row==9||datum.row==15||datum.row==42)&&datum.label!='ND'&&datum.label.length<=4"}],"mark":{"type":"text","fontSize":7,"fontWeight":"bold","color":"#3A2F96"},"encoding":{"x":{"field":"drug","type":"nominal","sort":null},"text":{"field":"label"}}},
{"data":{"name":"solidLines"},"mark":{"type":"rule","color":"#111","strokeWidth":1.3,"yOffset":9.5},"encoding":{}},
{"data":{"name":"dashedLines"},"mark":{"type":"rule","color":"#111","strokeWidth":1.5,"strokeDash":[4.5,3],"yOffset":9.5},"encoding":{}},
{"data":{"values":[{"edge":"left"}]},"mark":{"type":"rule","color":"#666","strokeWidth":1.5},"encoding":{"x":{"datum":"Crizotinib","type":"nominal","bandPosition":0},"y":null}},
{"data":{"values":[{"edge":"right"}]},"mark":{"type":"rule","color":"#222","strokeWidth":1.3},"encoding":{"x":{"datum":"NVL-655","type":"nominal","bandPosition":1},"y":null}}
]},
{"width":33,"height":912,
"encoding":{"y":{"field":"row","type":"quantitative","scale":{"domain":[0.5,48.5],"reverse":true,"nice":false,"zero":false},"axis":null}},
"layer":[
{"data":{"values":[{"lane":8.5,"row":2.85,"rowEnd":4.55},{"lane":8.5,"row":8.5,"rowEnd":10},{"lane":15.5,"row":2.85,"rowEnd":18.55},{"lane":15.5,"row":22.2,"rowEnd":38}]},"mark":{"type":"rule","color":"#333","strokeWidth":0.9},"encoding":{"x":{"field":"lane","type":"quantitative","scale":{"domain":[0,33],"nice":false},"axis":null},"y2":{"field":"rowEnd"}}},
{"data":{"values":[{"lane":3,"laneEnd":16,"row":2.85},{"lane":3,"laneEnd":8.5,"row":10},{"lane":3,"laneEnd":16,"row":38}]},"mark":{"type":"rule","color":"#333","strokeWidth":0.9},"encoding":{"x":{"field":"lane","type":"quantitative"},"x2":{"field":"laneEnd"}}},
{"data":{"values":[{"lane":8.5,"row":6.55,"label":"Compared in 2C"},{"lane":15.5,"row":20.4,"label":"Compared in 2E"}]},"mark":{"type":"text","fontSize":8,"angle":90},"encoding":{"x":{"field":"lane","type":"quantitative"},"text":{"field":"label"}}}
]},
{"bounds":"flush","spacing":0,"vconcat":[
{"width":10,"height":84.6,"data":{"values":[]},"mark":"point","encoding":{}},
{"width":208,"height":135,
"resolve":{"axis":{"x":"independent","y":"independent"}},
"layer":[
{"data":{"name":"foldC"},"mark":{"type":"rule","color":"#d2d2d2","strokeWidth":1},"encoding":{"x":{"datum":0.1,"type":"quantitative","scale":{"type":"log","domain":[0.1,10000],"range":[50.7,208],"nice":false},"axis":{"orient":"bottom","values":[0.1,1,10,100,1000,10000],"title":"IC₅₀ (nmol/L)","titleFontSize":8.8,"titleFontWeight":"normal","titleColor":"#222","titlePadding":5,"labelFontSize":8.8,"labelColor":"#222","labelPadding":5,"tickSize":4,"tickColor":"#333","domainColor":"#333","labelFlush":false,"grid":false,"labelExpr":"datum.value<0.5?'10⁻¹':datum.value<5?'10⁰':datum.value<50?'10¹':datum.value<500?'10²':datum.value<5000?'10³':'10⁴'"}},"x2":{"datum":10000},"y":{"field":"drug","type":"nominal","scale":{"type":"point","domain":["Crizotinib","Ceritinib","Alectinib","Brigatinib","Ensartinib","Lorlatinib","Zotizalkib","NVL-655"],"padding":1},"axis":{"orient":"left","offset":-50.7,"title":null,"tickSize":5,"labelPadding":2,"labelFontSize":9,"labelColor":"#222","domainColor":"#333","tickColor":"#333"}}}},
{"data":{"name":"foldC"},"mark":{"type":"rule","opacity":0},"encoding":{"x":{"datum":0.1,"type":"quantitative","axis":{"orient":"top","labels":false,"ticks":false,"title":null,"domainColor":"#333","grid":false}},"y":{"field":"drug","type":"nominal","axis":{"orient":"right","labels":false,"ticks":false,"title":null,"domainColor":"#333","grid":false}}}},
{"data":{"name":"foldC"},"transform":[{"filter":"datum.direction=='up'"}],"mark":{"type":"rule","color":"#D9472B","strokeWidth":1,"xOffset":4.5,"x2Offset":-6},"encoding":{"x":{"field":"from","type":"quantitative","axis":null},"x2":{"field":"to"},"y":{"field":"drug","type":"nominal","axis":null}}},
{"data":{"name":"foldC"},"transform":[{"filter":"datum.direction=='up'"}],"mark":{"type":"point","shape":"triangle-right","filled":true,"opacity":1,"size":16,"color":"#D9472B","xOffset":-6},"encoding":{"x":{"field":"to","type":"quantitative","axis":null},"y":{"field":"drug","type":"nominal","axis":null}}},
{"data":{"name":"foldC"},"transform":[{"filter":"datum.direction=='down'"}],"mark":{"type":"point","shape":"M1,-0.8C0.7,0.2 0,0.6 -0.8,0.5M-1,-0.6L-0.9,0.9L-0.1,0.5","filled":false,"opacity":1,"size":30,"strokeWidth":1,"color":"#1E9A45","yOffset":5.5},"encoding":{"x":{"field":"middle","type":"quantitative","axis":null},"y":{"field":"drug","type":"nominal","axis":null}}},
{"data":{"name":"potencyC"},"mark":{"type":"point","filled":false,"opacity":1,"size":16,"strokeWidth":1.3},"encoding":{"x":{"field":"value","type":"quantitative","axis":null},"y":{"field":"drug","type":"nominal","axis":null},"color":{"field":"series","type":"nominal","scale":{"domain":["No mutation","Mutant"],"range":["#777","#3B2F9B"]},"legend":null}}},
{"data":{"name":"potencyC"},"transform":[{"filter":"datum.side=='left'"}],"mark":{"type":"text","align":"right","fontSize":7.6,"xOffset":-4},"encoding":{"x":{"field":"value","type":"quantitative","axis":null},"y":{"field":"drug","type":"nominal","axis":null},"text":{"field":"label"},"color":{"field":"series","type":"nominal","legend":null}}},
{"data":{"name":"potencyC"},"transform":[{"filter":"datum.side=='right'"}],"mark":{"type":"text","align":"left","fontSize":7.6,"xOffset":4.5},"encoding":{"x":{"field":"value","type":"quantitative","axis":null},"y":{"field":"drug","type":"nominal","axis":null},"text":{"field":"label"},"color":{"field":"series","type":"nominal","legend":null}}},
{"data":{"name":"foldC"},"mark":{"type":"text","align":"left","fontSize":9,"fontWeight":"bold","xOffset":7},"encoding":{"x":{"datum":10000,"type":"quantitative","axis":null},"y":{"field":"drug","type":"nominal","axis":null},"text":{"field":"fold"},"color":{"condition":{"test":"datum.direction=='down'","value":"#1E9A45"},"value":"#D5401E"}}},
{"data":{"values":[{"label":"Fold change"}]},"mark":{"type":"text","align":"left","fontSize":8.8,"xOffset":7,"yOffset":-15},"encoding":{"x":{"datum":10000,"type":"quantitative","axis":null},"y":{"datum":"Crizotinib","type":"nominal","axis":null},"text":{"field":"label"}}},
{"data":{"values":[{"label":"C"}]},"mark":{"type":"text","fontSize":17,"fontWeight":"bold","color":"#000","yOffset":-82.6},"encoding":{"x":{"datum":0.0048,"type":"quantitative","axis":null},"y":{"datum":"Crizotinib","type":"nominal","axis":null},"text":{"field":"label"}}},
{"data":{"values":[{"label":"Potency change\ndue to G1202R mutation"}]},"mark":{"type":"text","fontSize":8.8,"lineBreak":"\n","lineHeight":11,"yOffset":-65},"encoding":{"x":{"datum":37.3,"type":"quantitative","axis":null},"y":{"datum":"Crizotinib","type":"nominal","axis":null},"text":{"field":"label"}}},
{"data":{"values":[{"label":"Ba/F3"}]},"mark":{"type":"text","align":"left","fontSize":8.8,"yOffset":-37},"encoding":{"x":{"datum":1.77,"type":"quantitative","axis":null},"y":{"datum":"Crizotinib","type":"nominal","axis":null},"text":{"field":"label"}}},
{"data":{"values":[{"label":"EML4-ALK"}]},"mark":{"type":"text","align":"left","fontSize":8.8,"fontStyle":"italic","yOffset":-37},"encoding":{"x":{"datum":12.7,"type":"quantitative","axis":null},"y":{"datum":"Crizotinib","type":"nominal","axis":null},"text":{"field":"label"}}},
{"data":{"values":[{"label":"v1"}]},"mark":{"type":"text","align":"left","fontSize":8.8,"yOffset":-37},"encoding":{"x":{"datum":404,"type":"quantitative","axis":null},"y":{"datum":"Crizotinib","type":"nominal","axis":null},"text":{"field":"label"}}},
{"data":{"values":[{"part":"underline"}]},"mark":{"type":"rule","color":"#999","strokeWidth":1.5,"yOffset":-29.3},"encoding":{"x":{"datum":0.329,"type":"quantitative","axis":null},"x2":{"datum":4010},"y":{"datum":"Crizotinib","type":"nominal","axis":null}}},
{"data":{"values":[{"series":"No mutation"}]},"mark":{"type":"point","filled":false,"opacity":1,"size":14,"strokeWidth":1.2,"yOffset":-22.6},"encoding":{"x":{"datum":0.232,"type":"quantitative","axis":null},"y":{"datum":"Crizotinib","type":"nominal","axis":null},"color":{"field":"series","type":"nominal","legend":null}}},
{"data":{"values":[{"series":"No mutation","label":"No mutation"}]},"mark":{"type":"text","align":"left","fontSize":7.6,"yOffset":-22.6},"encoding":{"x":{"datum":0.85,"type":"quantitative","axis":null},"y":{"datum":"Crizotinib","type":"nominal","axis":null},"text":{"field":"label"},"color":{"field":"series","type":"nominal","legend":null}}},
{"data":{"values":[{"series":"Mutant"}]},"mark":{"type":"point","filled":false,"opacity":1,"size":14,"strokeWidth":1.2,"yOffset":-22.6},"encoding":{"x":{"datum":150,"type":"quantitative","axis":null},"y":{"datum":"Crizotinib","type":"nominal","axis":null},"color":{"field":"series","type":"nominal","legend":null}}},
{"data":{"values":[{"series":"Mutant","label":"G1202R"}]},"mark":{"type":"text","align":"left","fontSize":7.6,"yOffset":-22.6},"encoding":{"x":{"datum":295,"type":"quantitative","axis":null},"y":{"datum":"Crizotinib","type":"nominal","axis":null},"text":{"field":"label"},"color":{"field":"series","type":"nominal","legend":null}}}
]},
{"width":10,"height":225,"data":{"values":[]},"mark":"point","encoding":{}},
{"width":208,"height":135,
"resolve":{"axis":{"x":"independent","y":"independent"}},
"layer":[
{"data":{"name":"foldE"},"mark":{"type":"rule","color":"#d2d2d2","strokeWidth":1},"encoding":{"x":{"datum":0.31,"type":"quantitative","scale":{"type":"log","domain":[0.31,30600],"range":[50.7,208],"nice":false},"axis":{"orient":"bottom","values":[1,10,100,1000,10000],"title":"IC₅₀ (nmol/L)","titleFontSize":8.8,"titleFontWeight":"normal","titleColor":"#222","titlePadding":5,"labelFontSize":8.8,"labelColor":"#222","labelPadding":5,"tickSize":4,"tickColor":"#333","domainColor":"#333","labelFlush":false,"grid":false,"labelExpr":"datum.value<5?'10⁰':datum.value<50?'10¹':datum.value<500?'10²':datum.value<5000?'10³':'10⁴'"}},"x2":{"datum":30600},"y":{"field":"drug","type":"nominal","scale":{"type":"point","domain":["Crizotinib","Ceritinib","Alectinib","Brigatinib","Ensartinib","Lorlatinib","Zotizalkib","NVL-655"],"padding":1},"axis":{"orient":"left","offset":-50.7,"title":null,"tickSize":5,"labelPadding":2,"labelFontSize":9,"labelColor":"#222","domainColor":"#333","tickColor":"#333"}}}},
{"data":{"name":"foldE"},"mark":{"type":"rule","opacity":0},"encoding":{"x":{"datum":0.31,"type":"quantitative","axis":{"orient":"top","labels":false,"ticks":false,"title":null,"domainColor":"#333","grid":false}},"y":{"field":"drug","type":"nominal","axis":{"orient":"right","labels":false,"ticks":false,"title":null,"domainColor":"#333","grid":false}}}},
{"data":{"name":"foldE"},"transform":[{"filter":"datum.direction=='up'"}],"mark":{"type":"rule","color":"#D9472B","strokeWidth":1,"xOffset":4.5,"x2Offset":-6},"encoding":{"x":{"field":"from","type":"quantitative","axis":null},"x2":{"field":"to"},"y":{"field":"drug","type":"nominal","axis":null}}},
{"data":{"name":"foldE"},"transform":[{"filter":"datum.direction=='up'"}],"mark":{"type":"point","shape":"triangle-right","filled":true,"opacity":1,"size":16,"color":"#D9472B","xOffset":-6},"encoding":{"x":{"field":"to","type":"quantitative","axis":null},"y":{"field":"drug","type":"nominal","axis":null}}},
{"data":{"name":"foldE"},"transform":[{"filter":"datum.direction=='down'"}],"mark":{"type":"point","shape":"M1,-0.8C0.7,0.2 0,0.6 -0.8,0.5M-1,-0.6L-0.9,0.9L-0.1,0.5","filled":false,"opacity":1,"size":30,"strokeWidth":1,"color":"#1E9A45","yOffset":5.5},"encoding":{"x":{"field":"middle","type":"quantitative","axis":null},"y":{"field":"drug","type":"nominal","axis":null}}},
{"data":{"name":"potencyE"},"mark":{"type":"point","filled":false,"opacity":1,"size":16,"strokeWidth":1.3},"encoding":{"x":{"field":"value","type":"quantitative","axis":null},"y":{"field":"drug","type":"nominal","axis":null},"color":{"field":"series","type":"nominal","scale":{"domain":["No mutation","Mutant"],"range":["#777","#3B2F9B"]},"legend":null}}},
{"data":{"name":"potencyE"},"transform":[{"filter":"datum.side=='left'"}],"mark":{"type":"text","align":"right","fontSize":7.6,"xOffset":-4},"encoding":{"x":{"field":"value","type":"quantitative","axis":null},"y":{"field":"drug","type":"nominal","axis":null},"text":{"field":"label"},"color":{"field":"series","type":"nominal","legend":null}}},
{"data":{"name":"potencyE"},"transform":[{"filter":"datum.side=='right'"}],"mark":{"type":"text","align":"left","fontSize":7.6,"xOffset":4.5},"encoding":{"x":{"field":"value","type":"quantitative","axis":null},"y":{"field":"drug","type":"nominal","axis":null},"text":{"field":"label"},"color":{"field":"series","type":"nominal","legend":null}}},
{"data":{"name":"foldE"},"mark":{"type":"text","align":"left","fontSize":9,"fontWeight":"bold","xOffset":7},"encoding":{"x":{"datum":30600,"type":"quantitative","axis":null},"y":{"field":"drug","type":"nominal","axis":null},"text":{"field":"fold"},"color":{"condition":{"test":"datum.fold=='1.6×'","value":"#1E9A45"},"value":"#D5401E"}}},
{"data":{"values":[{"label":"Fold change"}]},"mark":{"type":"text","align":"left","fontSize":8.8,"xOffset":7,"yOffset":-15},"encoding":{"x":{"datum":30600,"type":"quantitative","axis":null},"y":{"datum":"Crizotinib","type":"nominal","axis":null},"text":{"field":"label"}}},
{"data":{"values":[{"label":"E"}]},"mark":{"type":"text","fontSize":17,"fontWeight":"bold","color":"#000","yOffset":-81.3},"encoding":{"x":{"datum":0.0147,"type":"quantitative","axis":null},"y":{"datum":"Crizotinib","type":"nominal","axis":null},"text":{"field":"label"}}},
{"data":{"values":[{"label":"Potency change\ndue to G1202R/L1196M mutation"}]},"mark":{"type":"text","fontSize":8.8,"lineBreak":"\n","lineHeight":11,"yOffset":-70.3},"encoding":{"x":{"datum":100,"type":"quantitative","axis":null},"y":{"datum":"Crizotinib","type":"nominal","axis":null},"text":{"field":"label"}}},
{"data":{"values":[{"label":"Ba/F3"}]},"mark":{"type":"text","align":"left","fontSize":8.8,"yOffset":-36.7},"encoding":{"x":{"datum":4.85,"type":"quantitative","axis":null},"y":{"datum":"Crizotinib","type":"nominal","axis":null},"text":{"field":"label"}}},
{"data":{"values":[{"label":"EML4-ALK"}]},"mark":{"type":"text","align":"left","fontSize":8.8,"fontStyle":"italic","yOffset":-36.7},"encoding":{"x":{"datum":34.1,"type":"quantitative","axis":null},"y":{"datum":"Crizotinib","type":"nominal","axis":null},"text":{"field":"label"}}},
{"data":{"values":[{"label":"v1"}]},"mark":{"type":"text","align":"left","fontSize":8.8,"yOffset":-36.7},"encoding":{"x":{"datum":1084,"type":"quantitative","axis":null},"y":{"datum":"Crizotinib","type":"nominal","axis":null},"text":{"field":"label"}}},
{"data":{"values":[{"part":"underline"}]},"mark":{"type":"rule","color":"#444","strokeWidth":1,"yOffset":-29.7},"encoding":{"x":{"datum":0.457,"type":"quantitative","axis":null},"x2":{"datum":21700},"y":{"datum":"Crizotinib","type":"nominal","axis":null}}},
{"data":{"values":[{"series":"No mutation"}]},"mark":{"type":"point","filled":false,"opacity":1,"size":14,"strokeWidth":1.2,"yOffset":-22.7},"encoding":{"x":{"datum":0.644,"type":"quantitative","axis":null},"y":{"datum":"Crizotinib","type":"nominal","axis":null},"color":{"field":"series","type":"nominal","legend":null}}},
{"data":{"values":[{"series":"No mutation","label":"No mutation"}]},"mark":{"type":"text","align":"left","fontSize":7.6,"yOffset":-22.7},"encoding":{"x":{"datum":1.12,"type":"quantitative","axis":null},"y":{"datum":"Crizotinib","type":"nominal","axis":null},"text":{"field":"label"},"color":{"field":"series","type":"nominal","legend":null}}},
{"data":{"values":[{"series":"Mutant"}]},"mark":{"type":"point","filled":false,"opacity":1,"size":14,"strokeWidth":1.2,"yOffset":-22.7},"encoding":{"x":{"datum":95,"type":"quantitative","axis":null},"y":{"datum":"Crizotinib","type":"nominal","axis":null},"color":{"field":"series","type":"nominal","legend":null}}},
{"data":{"values":[{"series":"Mutant","label":"G1202R/L1196M"}]},"mark":{"type":"text","align":"left","fontSize":7.6,"yOffset":-22.7},"encoding":{"x":{"datum":167,"type":"quantitative","axis":null},"y":{"datum":"Crizotinib","type":"nominal","axis":null},"text":{"field":"label"},"color":{"field":"series","type":"nominal","legend":null}}}
]},
{"width":10,"height":169,"data":{"values":[]},"mark":"point","encoding":{}},
{"width":265,"height":107.2,
"encoding":{"y":{"field":"row","type":"quantitative","scale":{"domain":[-0.5,7.5],"reverse":true,"nice":false,"zero":false},"axis":null}},
"layer":[
{"data":{"name":"originTable"},"mark":{"type":"rule","color":"#cfcfcf","strokeWidth":1,"yOffset":6.7},"encoding":{"x":{"datum":0,"type":"quantitative","scale":{"domain":[0,265],"nice":false},"axis":null},"x2":{"datum":36}}},
{"data":{"name":"originTable"},"mark":{"type":"rule","color":"#cfcfcf","strokeWidth":1,"yOffset":6.7},"encoding":{"x":{"datum":138,"type":"quantitative"},"x2":{"datum":265}}},
{"data":{"name":"originTable"},"transform":[{"aggregate":[{"op":"max","field":"row","as":"last"}],"groupby":["origin"]}],"mark":{"type":"rule","color":"#cfcfcf","strokeWidth":1,"yOffset":6.7},"encoding":{"x":{"datum":36,"type":"quantitative"},"x2":{"datum":138},"y":{"field":"last","type":"quantitative"}}},
{"data":{"values":[{"row":0.5,"rowEnd":7.5}]},"mark":{"type":"rule","color":"#d8d8d8","strokeWidth":1.4},"encoding":{"x":{"datum":36,"type":"quantitative"},"y2":{"field":"rowEnd"}}},
{"data":{"values":[{"row":0.5,"rowEnd":7.5}]},"mark":{"type":"rule","color":"#d8d8d8","strokeWidth":1.4},"encoding":{"x":{"datum":138,"type":"quantitative"},"y2":{"field":"rowEnd"}}},
{"data":{"values":[{"row":0}]},"mark":{"type":"rule","color":"#222","strokeWidth":1.3,"yOffset":6.7},"encoding":{"x":{"datum":0,"type":"quantitative"},"x2":{"datum":265}}},
{"data":{"values":[{"row":0,"label":"Type"}]},"mark":{"type":"text","fontSize":8.8},"encoding":{"x":{"datum":19.3,"type":"quantitative"},"text":{"field":"label"}}},
{"data":{"values":[{"row":0,"label":"Origin"}]},"mark":{"type":"text","fontSize":8.8},"encoding":{"x":{"datum":88.8,"type":"quantitative"},"text":{"field":"label"}}},
{"data":{"values":[{"row":0,"label":"Disease background"}]},"mark":{"type":"text","fontSize":8.8},"encoding":{"x":{"datum":206.7,"type":"quantitative"},"text":{"field":"label"}}},
{"data":{"name":"originTable"},"transform":[{"filter":"datum.symbol!='circle'"}],"mark":{"type":"point","filled":true,"opacity":1,"size":36,"color":"#000"},"encoding":{"x":{"datum":18,"type":"quantitative"},"shape":{"field":"symbol","type":"nominal","scale":{"domain":["triangle","square"],"range":["triangle-up","square"]},"legend":null}}},
{"data":{"name":"originTable"},"transform":[{"filter":"datum.symbol=='circle'"}],"mark":{"type":"circle","opacity":1,"size":20,"color":"#000"},"encoding":{"x":{"datum":15,"type":"quantitative"}}},
{"data":{"name":"originTable"},"mark":{"type":"text","fontSize":8.4,"align":"left"},"encoding":{"x":{"datum":18.3,"type":"quantitative"},"text":{"field":"suffix"}}},
{"data":{"name":"originTable"},"transform":[{"aggregate":[{"op":"mean","field":"row","as":"middle"}],"groupby":["origin"]}],"mark":{"type":"text","fontSize":8.4},"encoding":{"x":{"datum":87,"type":"quantitative"},"y":{"field":"middle","type":"quantitative"},"text":{"field":"origin"}}},
{"data":{"name":"originTable"},"mark":{"type":"text","fontSize":8.4},"encoding":{"x":{"datum":201,"type":"quantitative"},"text":{"field":"disease"}}}
]}
]}
]}
